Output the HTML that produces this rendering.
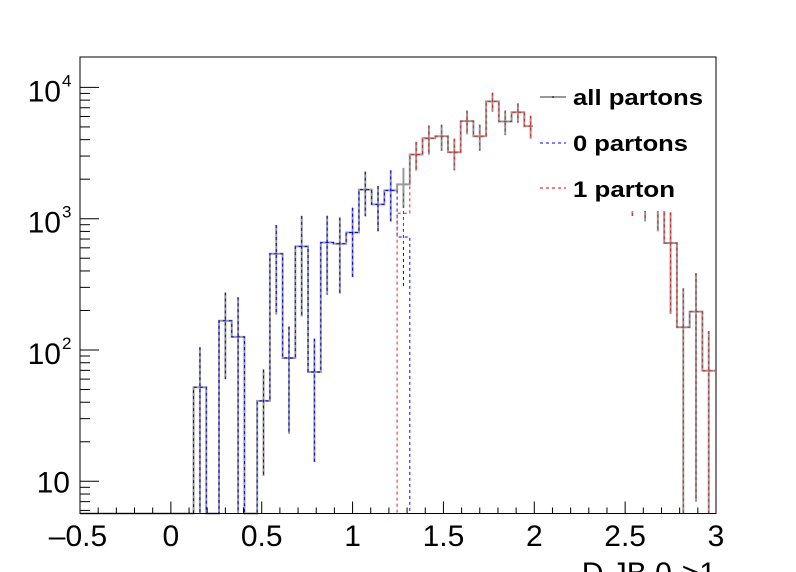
<!DOCTYPE html>
<html><head><meta charset="utf-8"><style>
html,body{margin:0;padding:0;background:#fff;}
svg{display:block;font-family:"Liberation Sans",Arial,sans-serif;}
</style></head><body>
<svg id="chart" width="796" height="572" viewBox="0 0 796 572" xmlns="http://www.w3.org/2000/svg">
<rect x="0" y="0" width="796" height="572" fill="#fff"/>
<g id="plot"></g>
<g id="axes"></g>
<g id="legend">
  <rect x="533" y="70" width="182" height="141" fill="#fff"/>
  <g>
    <line x1="540" y1="97" x2="566" y2="97" stroke="#999" stroke-width="2"/>
    <circle cx="553" cy="97" r="0.8" fill="#000"/>
    <text x="573" y="105" font-size="22" font-weight="bold" textLength="130" lengthAdjust="spacingAndGlyphs">all partons</text>
  </g>
  <g>
    <line x1="540" y1="143" x2="566" y2="143" stroke="#00f" stroke-width="1" stroke-dasharray="3,3"/>
    <text x="573" y="151" font-size="22" font-weight="bold" textLength="115" lengthAdjust="spacingAndGlyphs">0 partons</text>
  </g>
  <g>
    <line x1="540" y1="188" x2="566" y2="188" stroke="#d00" stroke-width="1" stroke-dasharray="3,3"/>
    <text x="573" y="197" font-size="22" font-weight="bold" textLength="102" lengthAdjust="spacingAndGlyphs">1 parton</text>
  </g>
</g>
</svg>
<script>
const binLow = -0.505;
const binWidth = 0.07;
const allVals = [0,0,0,0,0,0,0,0,0,52,0,167,126,0,41,541,87,615,68,659,644,785,1664,1285,1643,1825,3085,4100,4250,3205,5530,4250,7820,5500,6470,5070,4500,4000,3500,3100,2800,2500,2200,2100,1850,1650,653,149,196,69.5];
const allErr = [0,0,0,0,0,0,0,0,0,53,0,107,126,0,30,355,64,435,54,395,375,427,620,485,690,615,765,1030,960,870,1130,960,1280,1170,1090,1010,1000,950,900,850,800,750,700,1050,895,850,465,146,189,70];
const zeroVals = [0,0,0,0,0,0,0,0,0,52,0,167,126,0,41,541,87,615,68,659,644,785,1664,1285,1643,725,0,0,0,0,0,0,0,0,0,0,0,0,0,0,0,0,0,0,0,0,0,0,0,0];
const zeroErr = [0,0,0,0,0,0,0,0,0,53,0,107,126,0,30,355,64,435,54,395,375,427,620,485,690,420,0,0,0,0,0,0,0,0,0,0,0,0,0,0,0,0,0,0,0,0,0,0,0,0];
const oneVals = [0,0,0,0,0,0,0,0,0,0,0,0,0,0,0,0,0,0,0,0,0,0,0,0,0,1100,3085,4100,4250,3205,5530,4250,7820,5500,6470,5070,4500,4000,3500,3100,2800,2500,2200,2100,1850,1650,653,149,196,69.5];
const oneErr = [0,0,0,0,0,0,0,0,0,0,0,0,0,0,0,0,0,0,0,0,0,0,0,0,0,470,765,1030,960,870,1130,960,1280,1170,1090,1010,1000,950,900,850,800,750,700,1050,895,850,465,146,189,70];
const xTickLabels = ["\u20130.5","0","0.5","1","1.5","2","2.5","3"];
const xTickValues = [-0.5,0,0.5,1,1.5,2,2.5,3];
const yTickExps = [1,2,3,4];

const NS="http://www.w3.org/2000/svg";
const L=80,R=716,T=57,B=513.5;
const xMin=-0.5,xMax=3;
function X(v){return L+(v-xMin)/(xMax-xMin)*(R-L);}
function Y(v){ if(v<=0) return B; const y=481.3-131.3*(Math.log10(v)-1); return Math.max(T,Math.min(B,y)); }
function mk(tag,attrs,parent){const e=document.createElementNS(NS,tag);for(const k in attrs)e.setAttribute(k,attrs[k]);parent.appendChild(e);return e;}
const plot=document.getElementById('plot');
const axes=document.getElementById('axes');

function drawHist(vals,errs,color,width,dash,name){
  const g=mk('g',{},plot);
  
  
  let d='';
  for(let i=0;i<vals.length;i++){
    const x0=X(binLow+i*binWidth), x1=Math.min(R,X(binLow+(i+1)*binWidth));
    const y=Y(vals[i]);
    d+=(i===0?'M'+Math.max(L,x0)+','+y:'L'+x0+','+y)+' L'+x1+','+y+' ';
  }
  const p=mk('path',{d:d,fill:'none',stroke:color,'stroke-width':width},g);
  if(dash)p.setAttribute('stroke-dasharray',dash);
  
  
  for(let i=0;i<vals.length;i++){
    if(vals[i]<=0||errs[i]<=0)continue;
    const xc=X(binLow+(i+0.5)*binWidth);
    if(xc>R)continue;
    const e=mk('line',{x1:xc,x2:xc,y1:Y(vals[i]+errs[i]),y2:Y(vals[i]-errs[i]),stroke:color,'stroke-width':width},g);
    if(dash)e.setAttribute('stroke-dasharray',dash);
    
    
  }
}
drawHist(allVals,allErr,'#999','2',null,'all-partons-hist');
drawHist(zeroVals,zeroErr,'#00f','1','3,3','zero-partons-hist');
drawHist(oneVals,oneErr,'#e02020','1','3,3','one-parton-hist');

const fr=mk('rect',{x:L,y:T,width:R-L,height:B-T,fill:'none',stroke:'#000','stroke-width':1},axes);


for(let k=0;k<=35;k++){
  const v=-0.5+k*0.1; const x=X(v); const major=(k%5===0);
  const t=mk('line',{x1:x,x2:x,y1:B,y2:B-(major?12:6),stroke:'#000','stroke-width':1},axes);
  
  
}
for(let i=0;i<xTickValues.length;i++){
  const t=mk('text',{x:X(xTickValues[i])-(i===0?2:0),y:546,'font-size':30,'text-anchor':'middle'},axes);
  t.textContent=xTickLabels[i];
  
  
}
for(let e=0;e<=4;e++){
  for(let m=1;m<=9;m++){
    const v=m*Math.pow(10,e); if(v<5.5||v>17000)continue;
    const y=481.3-131.3*(Math.log10(v)-1);
    const t=mk('line',{x1:L,x2:L+(m===1?19:10),y1:y,y2:y,stroke:'#000','stroke-width':1},axes);
    
    
  }
}
for(const e of yTickExps){
  const y=481.3-131.3*(e-1);
  const g=mk('g',{},axes);
  
  
  if(e===1){
    const t=mk('text',{x:70,y:y+11,'font-size':30,'text-anchor':'end'},g); t.textContent='10';
  } else {
    const t=mk('text',{x:61,y:y+14,'font-size':30,'text-anchor':'end'},g); t.textContent='10';
    const s=mk('text',{x:62,y:y-1,'font-size':17},g); s.textContent=String(e);
  }
}
const xt=mk('text',{x:716,y:583,'font-size':30,'text-anchor':'end'},axes);
xt.textContent='D JB 0->1';


document.getElementById('chart').appendChild(document.getElementById('legend'));
</script>
</body></html>
